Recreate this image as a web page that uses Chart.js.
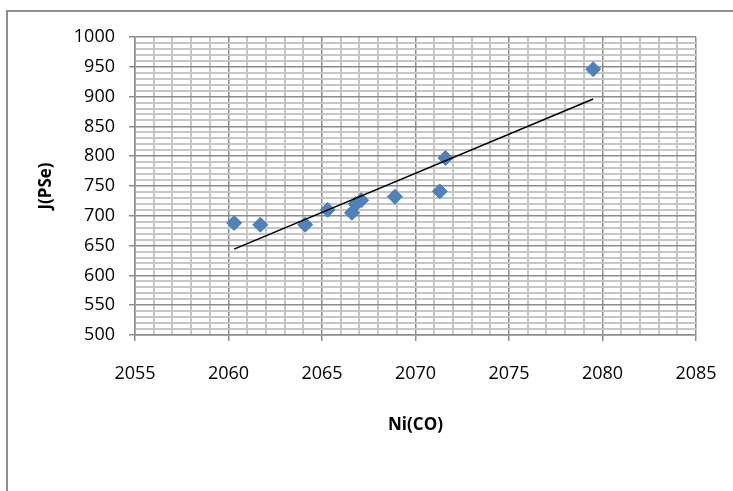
<!DOCTYPE html>
<html>
<head>
<meta charset="utf-8">
<script src="https://cdn.jsdelivr.net/npm/chart.js@4.4.1/dist/chart.umd.min.js"></script>
<style>
    html, body { margin: 0; padding: 0; background: #fff; }
    #wrap { position: relative; width: 733px; height: 491px; overflow: hidden; }
    #frame { position: absolute; left: 6px; top: 10px; width: 800px; height: 600px; border: 2px solid #8e8e8e; }
    #chart { position: absolute; left: 0; top: 0; }
</style>
</head>
<body>
<div id="wrap">
    <div id="frame"></div>
    <canvas id="chart" width="733" height="491"></canvas>
</div>
<script>
// values
const niCO = [2060.3, 2061.7, 2064.1, 2065.3, 2066.6, 2066.8, 2067.1, 2068.9, 2071.3, 2071.6, 2079.5];
const jPSe = [688, 685, 685, 710, 705, 720, 726, 732, 741, 797, 946];

// linear trendline end points
const trendX = [2060.3, 2079.5];
const trendY = [644, 896];

// labelled ticks
const xTicks = [2055, 2060, 2065, 2070, 2075, 2080, 2085];
const yTicks = [500, 550, 600, 650, 700, 750, 800, 850, 900, 950, 1000];

const isMajorX = v => xTicks.includes(Math.round(v));
const isMajorY = v => yTicks.includes(Math.round(v));

Chart.defaults.font.family = "'Open Sans', sans-serif";
Chart.defaults.color = '#000';

const ctx = document.getElementById('chart').getContext('2d');
new Chart(ctx, {
    type: 'scatter',
    data: {
        datasets: [{
            label: 'J(PSe)',
            data: niCO.map((x, i) => ({ x: x, y: jPSe[i] })),
            backgroundColor: '#4f81bd',
            borderColor: '#4a7ebb',
            borderWidth: 1,
            pointStyle: 'rectRot',
            pointRadius: 7.5,
            order: 2
        }, {
            label: 'Linear',
            type: 'line',
            data: trendX.map((x, i) => ({ x: x, y: trendY[i] })),
            borderColor: '#000',
            borderWidth: 1.5,
            pointRadius: 0,
            fill: false,
            order: 1
        }]
    },
    options: {
        responsive: false,
        animation: false,
        layout: {
            padding: { left: 0, top: 37, right: 37, bottom: 0 }
        },
        plugins: {
            legend: { display: false },
            tooltip: { enabled: false }
        },
        scales: {
            x: {
                type: 'linear',
                min: 2055,
                max: 2085,
                afterFit: (scale) => {
                    scale.height = 156;
                    scale.paddingLeft = 0;
                    scale.paddingRight = 0;
                },
                ticks: {
                    stepSize: 1,
                    autoSkip: false,
                    maxRotation: 0,
                    padding: 22,
                    font: { size: 18 },
                    callback: (v) => isMajorX(v) ? String(v) : ''
                },
                grid: {
                    drawTicks: true,
                    tickLength: 6,
                    color: (c) => isMajorX(c.tick.value) ? '#8c8c8c' : '#c6c6c6',
                    lineWidth: (c) => isMajorX(c.tick.value) ? 1.5 : 2,
                    tickColor: (c) => isMajorX(c.tick.value) ? '#8c8c8c' : 'rgba(0,0,0,0)'
                },
                border: { display: true, color: '#8c8c8c', width: 1.5 },
                title: {
                    display: true,
                    text: 'Ni(CO)',
                    font: { size: 17, weight: 'bold' },
                    padding: { top: 0, bottom: 56 }
                }
            },
            y: {
                min: 500,
                max: 1000,
                afterFit: (scale) => {
                    scale.width = 135;
                    scale.paddingTop = 0;
                    scale.paddingBottom = 0;
                },
                ticks: {
                    stepSize: 10,
                    autoSkip: false,
                    padding: 14,
                    font: { size: 18 },
                    callback: (v) => isMajorY(v) ? String(v) : ''
                },
                grid: {
                    drawTicks: true,
                    tickLength: 6,
                    color: (c) => isMajorY(c.tick.value) ? '#8c8c8c' : '#c6c6c6',
                    lineWidth: (c) => isMajorY(c.tick.value) ? 1.5 : 2,
                    tickColor: (c) => isMajorY(c.tick.value) ? '#8c8c8c' : 'rgba(0,0,0,0)'
                },
                border: { display: true, color: '#8c8c8c', width: 1.5 },
                title: {
                    display: true,
                    text: 'J(PSe)',
                    font: { size: 17, weight: 'bold' },
                    padding: { top: 36, bottom: 0 }
                }
            }
        }
    }
});
</script>
</body>
</html>
